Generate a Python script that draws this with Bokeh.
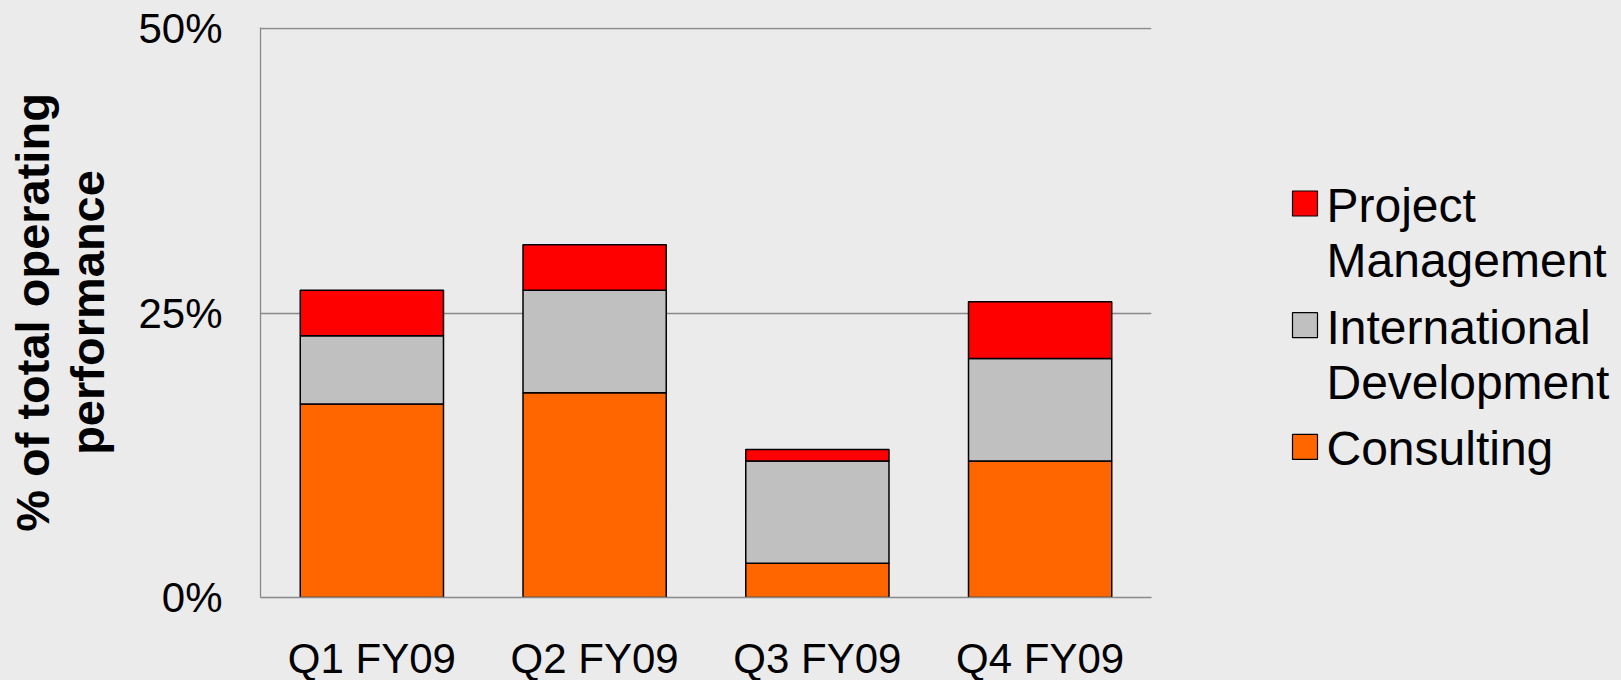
from bokeh.plotting import figure
from bokeh.models import ColumnDataSource, FactorRange, Range1d, FixedTicker, GlobalInlineStyleSheet
from bokeh.layouts import row
from bokeh.core.properties import value
from bokeh.embed import file_html
from bokeh.resources import INLINE

# ---- data ----
quarters = ["Q1 FY09", "Q2 FY09", "Q3 FY09", "Q4 FY09"]
consulting = [17, 18, 3, 12]
international_development = [6, 9, 9, 9]
project_management = [4, 4, 1, 5]
series_names = ["Consulting", "International Development", "Project Management"]
series_colors = ["#FF6600", "#C0C0C0", "#FF0000"]
legend_lines = {
    "Project Management": ["Project", "Management"],
    "International Development": ["International", "Development"],
    "Consulting": ["Consulting"],
}
y_ticks = [0, 25, 50]
y_tick_labels = ["0%", "25%", "50%"]

FONT = "Liberation Sans"
BG = "#EBEBEB"
AXIS_GRAY = "#898989"

page_css = GlobalInlineStyleSheet(
    css="html, body { background-color: #EBEBEB; margin: 0; padding: 0; overflow: hidden; }")

source = ColumnDataSource(data=dict(
    q=quarters,
    Consulting=consulting,
    **{"International Development": international_development},
    **{"Project Management": project_management},
))

TOP, FH, BOTTOM = 27, 570, 83

p = figure(
    x_range=FactorRange(*quarters, range_padding=0),
    y_range=Range1d(0, 50.1),
    frame_width=891, frame_height=FH,
    min_border_left=260, min_border_right=17, min_border_top=TOP, min_border_bottom=BOTTOM,
    output_backend="svg", toolbar_location=None,
    background_fill_color=BG, border_fill_color=BG,
)
p.stylesheets = [page_css]
p.outline_line_color = None

p.vbar_stack(series_names, x="q", width=0.643, color=series_colors,
             line_color="black", line_width=1.5, source=source)

# y axis
p.yaxis.ticker = FixedTicker(ticks=y_ticks)
p.yaxis.major_label_overrides = {t: l for t, l in zip(y_ticks, y_tick_labels)}
p.yaxis.major_tick_line_color = None
p.yaxis.minor_tick_line_color = None
p.yaxis.major_tick_out = 0
p.yaxis.major_tick_in = 0
p.yaxis.major_label_standoff = 38
p.yaxis.major_label_text_font = FONT
p.yaxis.major_label_text_font_size = "42px"
p.yaxis.major_label_text_color = "black"
p.yaxis.axis_line_color = AXIS_GRAY
p.yaxis.axis_line_width = 1.3
p.yaxis.axis_label = "% of total operating\nperformance"
p.yaxis.axis_label_text_font = FONT
p.yaxis.axis_label_text_font_style = "bold"
p.yaxis.axis_label_text_font_size = "47px"
p.yaxis.axis_label_text_line_height = 1.05
p.yaxis.axis_label_text_color = "black"
p.yaxis.axis_label_standoff = 21

# x axis
p.xaxis.major_tick_line_color = None
p.xaxis.major_tick_out = 0
p.xaxis.major_tick_in = 0
p.xaxis.major_label_standoff = 37
p.xaxis.major_label_text_font = FONT
p.xaxis.major_label_text_font_size = "42px"
p.xaxis.major_label_text_color = "black"
p.xaxis.axis_line_color = AXIS_GRAY
p.xaxis.axis_line_width = 1.3

# grid
p.xgrid.grid_line_color = None
p.ygrid.ticker = FixedTicker(ticks=y_ticks)
p.ygrid.grid_line_color = AXIS_GRAY
p.ygrid.grid_line_width = 1.3

# ---- legend panel (frame aligned with main frame; y in page pixels) ----
LW = 453
lg = figure(
    frame_width=LW, frame_height=FH,
    x_range=Range1d(0, LW), y_range=Range1d(TOP + FH, TOP),
    min_border=0, min_border_top=TOP, min_border_bottom=BOTTOM,
    output_backend="svg", toolbar_location=None,
    background_fill_color=BG, border_fill_color=BG,
)
lg.outline_line_color = None
lg.axis.visible = False
lg.grid.visible = False

first_square_y = 203
item_gap = 121.7
line_gap = 55
text_dy = 2       # first text line (as rendered) relative to square centre
sq_x = 136.5
text_x = 158

legend_order = ["Project Management", "International Development", "Consulting"]
sq_xs, sq_ys, sq_cols = [], [], []
tx, ty, tt = [], [], []
for i, name in enumerate(legend_order):
    cy = first_square_y + i * item_gap
    sq_xs.append(sq_x)
    sq_ys.append(cy)
    sq_cols.append(series_colors[series_names.index(name)])
    for j, line in enumerate(legend_lines[name]):
        tx.append(text_x)
        ty.append(cy + text_dy + j * line_gap)
        tt.append(line)

lg.rect(x=sq_xs, y=sq_ys, width=25, height=25, width_units="screen",
        height_units="screen", fill_color=sq_cols, line_color="black", line_width=1.2)
lg.text(x=tx, y=ty, text=tt, text_font=value(FONT), text_font_size="48px",
        text_align="left", text_baseline="alphabetic", text_color="black")

layout = row(p, lg, spacing=0)
open("out.html", "w").write(file_html(layout, INLINE))
